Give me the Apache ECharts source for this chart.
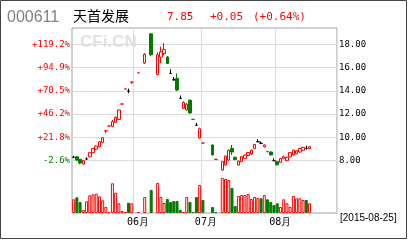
<!DOCTYPE html>
<html><head><meta charset="utf-8">
<script src="https://cdn.jsdelivr.net/npm/echarts@6/dist/echarts.min.js"></script>
<style>html,body{margin:0;padding:0;background:#fff}#c{width:408px;height:240px}</style>
</head><body><div id="c"></div>
<script>
// ---- data ----
const dates = [
 '2015-05-05','2015-05-06','2015-05-07','2015-05-08','2015-05-11','2015-05-12','2015-05-13','2015-05-14',
 '2015-05-15','2015-05-18','2015-05-19','2015-05-20','2015-05-21','2015-05-22','2015-05-25','2015-05-26',
 '2015-05-27','2015-05-28','2015-05-29',
 '2015-06-01','2015-06-02','2015-06-03','2015-06-04','2015-06-05','2015-06-08','2015-06-09','2015-06-10',
 '2015-06-11','2015-06-12','2015-06-15','2015-06-16','2015-06-17','2015-06-18','2015-06-19','2015-06-23',
 '2015-06-24','2015-06-25','2015-06-26','2015-06-29','2015-06-30',
 '2015-07-01','2015-07-02','2015-07-03','2015-07-06','2015-07-07','2015-07-08','2015-07-09','2015-07-10',
 '2015-07-13','2015-07-14','2015-07-15','2015-07-16','2015-07-17','2015-07-20','2015-07-21','2015-07-22',
 '2015-07-23','2015-07-24','2015-07-27','2015-07-28','2015-07-29','2015-07-30','2015-07-31',
 '2015-08-03','2015-08-04','2015-08-05','2015-08-06','2015-08-07','2015-08-10','2015-08-11','2015-08-12',
 '2015-08-13','2015-08-14','2015-08-17'
];
// [open, close, low, high]; null = no candle visible that day
const ohlc = [
 [8.3,8.3,8.22,8.42],[8.34,8.06,8.0,8.4],[8.12,7.8,7.7,8.15],[7.72,8.0,7.68,8.05],[8.15,8.15,8.08,8.3],
 [8.34,8.69,8.3,8.72],[8.69,9.06,8.65,9.1],[9.0,9.26,8.95,9.3],[9.2,9.63,9.15,9.68],[9.58,9.97,9.55,10.02],
 [10.57,10.57,10.35,10.57],[10.98,10.98,10.98,10.98],[10.95,11.35,10.9,11.5],[11.3,11.72,11.25,11.8],
 [11.55,12.35,11.5,12.4],[12.87,12.87,12.87,12.87],[14.16,14.16,14.16,14.16],[13.98,13.98,13.8,14.2],
 [14.75,14.75,14.6,14.75],null,[15.55,15.55,15.55,15.55],null,[16.4,17.15,16.3,17.25],null,
 [18.9,17.1,17.0,18.95],null,[15.4,17.1,15.35,17.3],[16.9,17.35,16.4,17.8],[17.2,17.55,17.05,18.1],
 [16.9,16.35,16.3,17.0],[15.5,15.5,15.5,15.85],[14.95,14.95,14.9,15.2],[15.07,14.07,14.0,15.5],
 [13.35,13.35,13.35,13.6],[12.5,13.0,12.45,13.1],[12.35,12.85,12.3,12.95],[13.2,12.1,12.05,13.25],
 [11.55,11.55,11.55,11.55],[11.05,11.05,11.05,11.25],[9.95,10.75,9.9,10.85],[9.52,9.52,9.52,9.52],
 null,null,[9.35,8.5,8.45,9.4],[8.12,8.12,8.12,8.12],null,
 [7.2,7.92,7.15,7.97],[7.63,8.4,7.6,8.45],[8.06,8.9,8.0,8.95],[9.05,8.75,8.5,9.35],[8.3,8.1,8.05,8.35],
 [7.63,7.97,7.6,8.0],[7.92,8.34,7.9,8.4],[8.2,8.49,8.15,8.52],[8.45,8.7,8.4,8.75],[8.57,8.92,8.5,8.95],
 [9.06,9.4,9.0,9.45],[9.63,9.63,9.63,9.85],[9.5,9.5,9.5,9.65],[9.2,9.35,9.15,9.4],[8.8,8.8,8.7,8.8],
 [8.75,8.5,8.45,8.8],[8.0,8.0,8.0,8.2],[7.92,7.65,7.6,7.95],[7.86,8.2,7.82,8.22],[8.2,8.34,8.15,8.45],
 [8.0,8.3,7.95,8.35],[8.34,8.7,8.3,8.75],[8.5,8.9,8.45,8.95],[8.6,8.85,8.55,8.9],[8.75,9.05,8.7,9.1],
 [8.9,9.15,8.85,9.2],[9.07,9.07,8.95,9.3],[9.05,9.2,9.0,9.28]
];
const volumes = [
 13.7,15.7,11,3,11.7,17.7,18.7,19.3,16.7,12.7,6,1,29.7,20.3,9.7,2,1,10.3,9.7,0,1,0,16,0,23,1,
 30,16,10,14,11,12,12,3,1,16,11,1,16,28,13,3,0,6,1,0,35,34,33,25,7,17,18,18,19,14,16,
 15,14.7,18,13.7,11,8,9.7,6,13.7,9.7,6,17,14.7,14.7,13,13,9.7
];
const priceTicks = [8,10,12,14,16,18];
const pctLabels = ['-2.6%','+21.8%','+46.2%','+70.5%','+94.9%','+119.2%'];
const stockCode = '000611', stockName = '天首发展';
const lastPrice = '7.85', change = '+0.05', changePct = '(+0.64%)', quoteDate = '[2015-08-25]';
const totalSlots = 82;

// ---- chart ----
const RED = '#ff0000', GREEN = '#007a00', GRIDC = '#dcdcdc', FRAME = '#a0a0a0';
const MONO = '"DejaVu Sans Mono", "Liberation Mono", monospace';
const isMonthStart = i => i > 0 && i < dates.length && dates[i].slice(5,7) !== dates[i-1].slice(5,7);

let prevClose = null;
const candleData = [], volData = [];
ohlc.forEach((d, i) => {
  if (!d) {
    candleData.push(['-','-','-','-']);
  } else {
    const [o,c,l,h] = d;
    if (o === c) {
      const col = (h === o) ? RED : '#000';
      candleData.push({value: d, itemStyle: {color: col, color0: col, borderColor: col, borderColor0: col}});
    } else {
      candleData.push({value: d});
    }
  }
  const v = volumes[i];
  if (!v || !d) { volData.push('-'); if (d) prevClose = d[1]; return; }
  const [o,c] = d;
  const down = c < o || (c === o && prevClose !== null && c < prevClose);
  volData.push({value: v, itemStyle: down ? {color: GREEN, borderColor: GREEN, borderWidth: 1}
                                          : {color: '#fff', borderColor: RED, borderWidth: 1}});
  prevClose = c;
});

const chart = echarts.init(document.getElementById('c'));
chart.setOption({
  animation: false,
  backgroundColor: '#fff',
  grid: [
    {left: 72, right: 71, top: 28, bottom: 56},
    {left: 72, right: 71, top: 178, bottom: 27},
    {left: 72, right: 71, top: 28, bottom: 27, show: true, borderColor: FRAME, borderWidth: 1, backgroundColor: 'transparent'}
  ],
  xAxis: [
    {type: 'category', gridIndex: 0, data: dates, max: totalSlots - 1, boundaryGap: true,
     axisLine: {show: false}, axisTick: {show: false}, axisLabel: {show: false}, splitLine: {show: false}},
    {type: 'category', gridIndex: 1, data: dates, max: totalSlots - 1, boundaryGap: true,
     axisLine: {show: false}, axisTick: {show: false},
     axisLabel: {show: true, interval: (i) => isMonthStart(i), margin: 4, padding: [0,0,0,6],
       formatter: (v) => v ? v.slice(5,7) + '月' : '', color: '#000', fontSize: 10, fontFamily: MONO},
     splitLine: {show: false}},
    {type: 'category', gridIndex: 2, data: dates, max: totalSlots - 1, boundaryGap: true,
     axisLine: {show: false}, axisTick: {show: false}, axisLabel: {show: false},
     splitLine: {show: true, interval: (i) => isMonthStart(i), lineStyle: {color: GRIDC, width: 1}}}
  ],
  yAxis: [
    {type: 'value', gridIndex: 0, position: 'right', min: 6, max: 19.4, interval: 2,
     axisLine: {show: false}, axisTick: {show: false},
     axisLabel: {show: true, margin: 2, showMinLabel: false, showMaxLabel: false, color: '#000',
       fontSize: 9, fontFamily: MONO, formatter: v => v.toFixed(2)},
     splitLine: {show: true, showMinLine: false, showMaxLine: false, lineStyle: {color: GRIDC, width: 1}}},
    {type: 'value', gridIndex: 0, position: 'left', min: 6, max: 19.4, interval: 2,
     axisLine: {show: false}, axisTick: {show: false}, splitLine: {show: false},
     axisLabel: {show: true, margin: 2, showMinLabel: false, showMaxLabel: false, fontSize: 9, fontFamily: MONO,
       formatter: v => { const k = priceTicks.indexOf(v); if (k < 0) return '';
         const t = pctLabels[k]; return t[0] === '-' ? '{g|' + t + '}' : '{r|' + t + '}'; },
       rich: {r: {color: RED, fontSize: 9, fontFamily: MONO}, g: {color: GREEN, fontSize: 9, fontFamily: MONO}}}},
    {type: 'value', gridIndex: 1, min: 0, max: 35, show: false, splitLine: {show: false}},
    {type: 'value', gridIndex: 2, show: false, splitLine: {show: false}}
  ],
  series: [
    {type: 'candlestick', xAxisIndex: 0, yAxisIndex: 0, data: candleData, barWidth: 3,
     itemStyle: {color: '#fff', color0: GREEN, borderColor: RED, borderColor0: GREEN, borderWidth: 1}},
    {type: 'bar', xAxisIndex: 1, yAxisIndex: 2, data: volData, barWidth: 3}
  ],
  graphic: [
    {type: 'rect', shape: {x: 0.5, y: 0.5, width: 406, height: 238}, style: {fill: 'none', stroke: '#444', lineWidth: 1}, silent: true},
    {type: 'text', left: 80, top: 34, style: {text: 'CFi.CN', fill: '#e2e2e2', font: 'bold 17px "Liberation Sans", Arial'}, z: -1},
    {type: 'text', left: 7, top: 10, style: {text: stockCode, fill: '#808080', font: '16px "Liberation Sans", Arial'}},
    {type: 'text', left: 73, top: 9, style: {text: stockName, fill: '#000', font: '14px "Noto Sans CJK SC"'}},
    {type: 'text', left: 167, top: 12, style: {text: lastPrice, fill: RED, font: '11px ' + MONO}},
    {type: 'text', left: 210, top: 12, style: {text: change, fill: RED, font: '11px ' + MONO}},
    {type: 'text', left: 253, top: 12, style: {text: changePct, fill: RED, font: '11px ' + MONO}},
    {type: 'text', left: 340, top: 213, style: {text: quoteDate, fill: '#000', font: '10px "Liberation Sans", Arial'}}
  ]
});
</script></body></html>
